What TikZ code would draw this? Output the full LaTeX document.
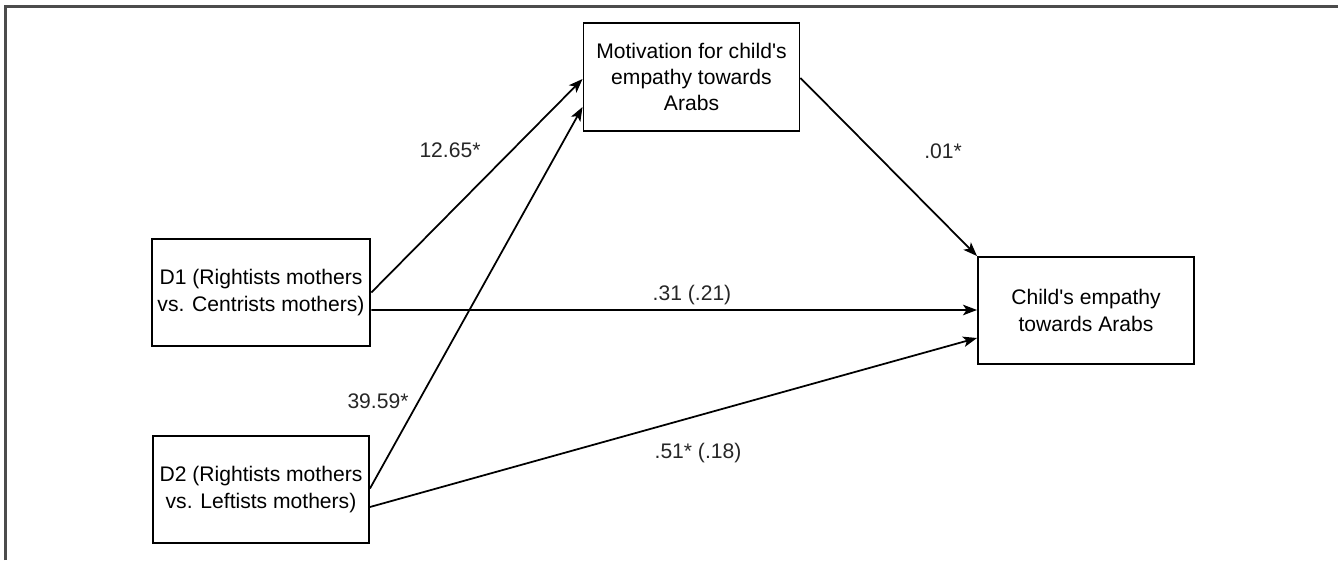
\documentclass[tikz,border=0pt]{standalone}
\usepackage{fontspec}
\setmainfont{Liberation Sans}
\usetikzlibrary{arrows.meta}
\tikzset{
	varbox/.style={draw, line width=1.1pt, minimum width=4.32cm, minimum height=2.14cm, align=center, font=\fontsize{12}{15}\selectfont},
	path/.style={line width=1pt, -{Stealth[length=0.28cm, width=0.21cm, inset=0.07cm]}},
	coef/.style={font=\fontsize{12}{15}\selectfont, color=black!85}
}

\begin{document}
\begin{tikzpicture}
		%%%%% START %%%%%
		
		\useasboundingbox (0, 0) rectangle (26.76, 11.2);
		\draw[line width=1.3pt, color=black!70] (0.11, 0) -- (0.11, 11.07) -- (26.76, 11.07);
		
		\node[varbox] (d1) at (5.22, 5.35) {D1 (Rightists mothers\\vs. Centrists mothers)};
		\node[varbox] (d2) at (5.22, 1.41) {D2 (Rightists mothers\\vs. Leftists mothers)};
		\node[varbox, minimum height=2.16cm] (motiv) at (13.83, 9.66) {Motivation for child\textquotesingle s\\empathy towards\\Arabs};
		\node[varbox] (empathy) at (21.72, 4.99) {Child\textquotesingle s empathy\\towards Arabs};
		
		\draw[path] (d1.east) -- ([yshift=-0.04cm]motiv.west);
		\draw[path] ([yshift=0.02cm]d2.east) -- ([yshift=-0.6cm]motiv.west);
		\draw[path] ([yshift=-0.35cm]d1.east) -- ([yshift=0.01cm]empathy.west);
		\draw[path] ([yshift=-0.35cm]d2.east) -- ([yshift=-0.55cm]empathy.west);
		\draw[path] ([yshift=-0.02cm]motiv.east) -- (empathy.north west);
		
		\node[coef] (c1) at (9.0, 8.2) {12.65*};
		\node[coef] (c2) at (7.56, 3.18) {39.59*};
		\node[coef] (c3) at (18.86, 8.18) {.01*};
		\node[coef] (c4) at (13.84, 5.3) {.31 (.21)};
		\node[coef] (c5) at (13.96, 2.14) {.51* (.18)};
		
		%%%%% END %%%%%
	\end{tikzpicture}
\end{document}
